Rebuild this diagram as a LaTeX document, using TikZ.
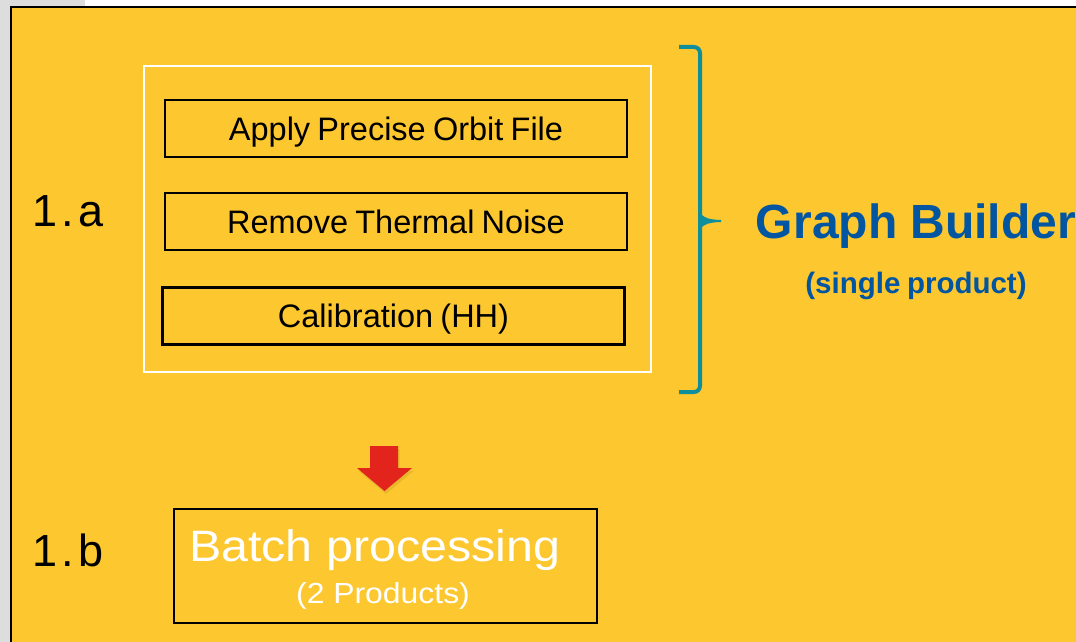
\documentclass[tikz,border=0pt]{standalone}
\usepackage{fontspec}
\setmainfont{Liberation Sans}
\newfontfamily\boxfont{Liberation Sans}[WordSpace=0.8]
\newfontfamily\widefont{Liberation Sans}[FakeStretch=1.1]
\newfontfamily\stepfont{Liberation Sans}[LetterSpace=10]
\usetikzlibrary{positioning}

\definecolor{panelyellow}{HTML}{FCC72F}
\definecolor{margingray}{HTML}{DDDDDD}
\definecolor{builderblue}{HTML}{0255A1}
\definecolor{braceteal}{HTML}{0F8E9C}
\definecolor{arrowred}{HTML}{E3241C}

\begin{document}
\begin{tikzpicture}[x=1pt,y=-1pt,
    opbox/.style={draw=black,line width=2.2pt,minimum width=462pt,minimum height=57pt,
      inner sep=0pt,text height=23pt,text depth=0pt,font=\boxfont\fontsize{32.5}{36}\selectfont},
    steplabel/.style={inner sep=0pt,anchor=base west,font=\stepfont\fontsize{45}{50}\selectfont}]
    \clip (0,0) rectangle (1076,642);
    % page margin and slide panel
    \fill[white] (0,0) rectangle (1076,642);
    \fill[margingray] (0,0) rectangle (85,7);
    \fill[margingray] (0,0) rectangle (11,642);
    \filldraw[fill=panelyellow,draw=black,line width=2pt] (11,7) rectangle (1100,680);

    % operators of the single-product graph
    \node[draw=white,line width=2pt,minimum width=507pt,minimum height=306pt] (group) at (397.5,219) {};
    \node[opbox] (orbit) at (396,128.5) {Apply Precise Orbit File};
    \node[opbox,below=34pt of orbit] (noise) {Remove Thermal Noise};
    \node[opbox,below=35pt of noise,xshift=-2.5pt] (calib) {Calibration (HH)};

    \node[steplabel] (stepa) at (32,226) {1.a};
    \node[steplabel] (stepb) at (32,566) {1.b};

    % brace
    \draw[braceteal,line width=4pt,rounded corners=6pt] (679,47) -- (700,47) -- (700,392) -- (679,392);
    \fill[braceteal] (698,206) .. controls (700,217) and (706,219.5) .. (721,220)
      -- (721,222) .. controls (706,222.5) and (700,225) .. (698,236) -- cycle;

    \node[font=\bfseries\fontsize{48}{52}\selectfont,text=builderblue,anchor=base] (builder) at (916,238) {Graph Builder};
    \node[font=\boxfont\bfseries\fontsize{29.5}{32}\selectfont,text=builderblue,anchor=base] (single) at (916,293) {(single product)};

    % red arrow down to the batch step
    \fill[black,opacity=.08,shift={(1.5,3)}] (370,446) -- (398,446) -- (398,468) -- (412,468) -- (384.5,491) -- (357,468) -- (370,468) -- cycle;
    \fill[arrowred] (370,446) -- (398,446) -- (398,468) -- (412,468) -- (384.5,491) -- (357,468) -- (370,468) -- cycle;

    \node[draw=black,line width=2.2pt,minimum width=423pt,minimum height=114pt] (batch) at (385.7,566) {};
    \node[font=\widefont\fontsize{44}{48}\selectfont,text=white,anchor=base] (batchtitle) at (374.7,561.7) {Batch processing};
    \node[font=\widefont\fontsize{29}{32}\selectfont,text=white,anchor=base] (batchnote) at (383,603) {(2 Products)};
\end{tikzpicture}
\end{document}
